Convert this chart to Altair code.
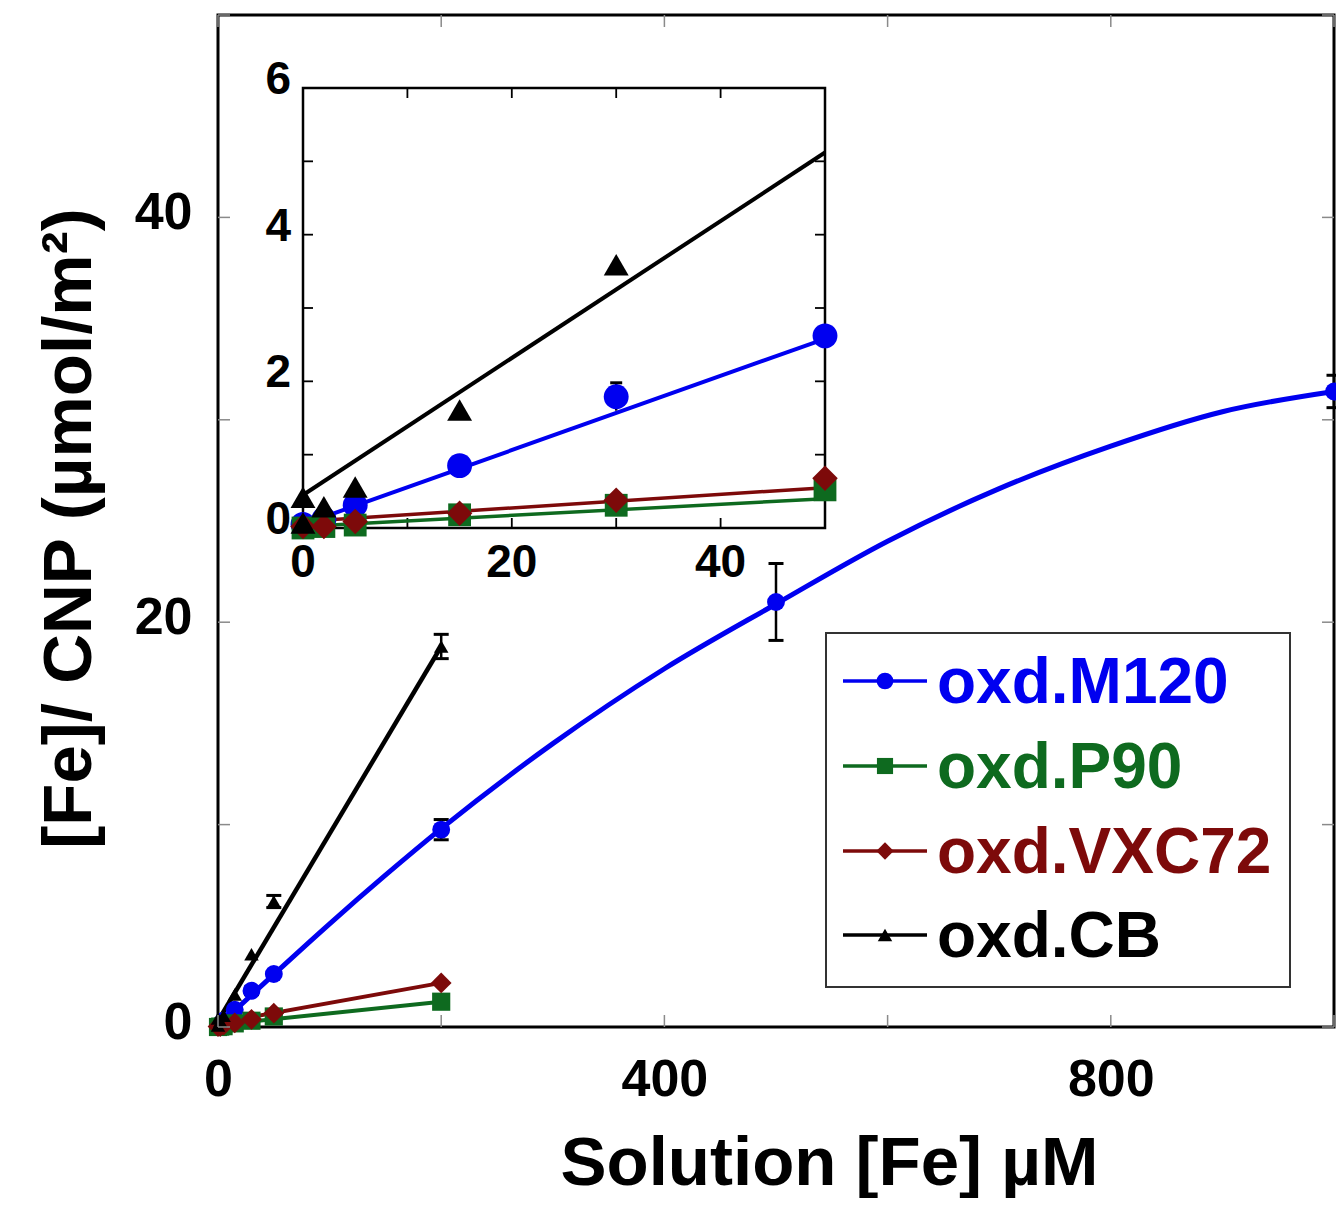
import altair as alt
import pandas as pd

FONT = "Liberation Sans"

# ---------------- data ----------------
series_names = ["oxd.M120", "oxd.P90", "oxd.VXC72", "oxd.CB"]
series_colors = ["#0000f0", "#0e6a1f", "#7d0a0a", "#000000"]
series_shapes = ["circle", "square", "diamond", "triangle-up"]

# measured points (solution Fe in uM, adsorbed Fe in umol/m2)
m120_x = [0, 2, 5, 15, 30, 50, 200, 500, 1000]
m120_y = [0.05, 0.12, 0.31, 0.85, 1.79, 2.62, 9.75, 21.0, 31.4]
p90_x = [0, 2, 5, 15, 30, 50, 200]
p90_y = [0.0, 0.02, 0.04, 0.18, 0.31, 0.52, 1.25]
vxc_x = [0, 2, 5, 15, 30, 50, 200]
vxc_y = [0.02, 0.02, 0.09, 0.20, 0.38, 0.68, 2.18]
cb_x = [0, 0, 2, 5, 15, 30, 50, 200]
cb_y = [0.07, 0.42, 0.29, 0.56, 1.61, 3.59, 6.2, 18.8]

# error bars (main panel)
err_x = [30, 200, 500, 1000, 50, 200]
err_lo = [1.60, 9.25, 19.1, 30.6, 5.9, 18.2]
err_hi = [1.98, 10.25, 22.9, 32.2, 6.5, 19.4]
# error bars (inset)
in_err_x = [30]
in_err_lo = [1.60]
in_err_hi = [1.98]

# fitted curves, main panel
m120_curve_x = [0, 50, 100, 150, 200, 300, 400, 500, 600, 700, 800, 900, 1000]
m120_curve_y = [0.05, 2.6, 5.1, 7.5, 9.8, 14.0, 17.7, 20.9, 24.0, 26.6, 28.7, 30.4, 31.4]
main_fit_x = [0, 200]
p90_fit_main = [0.10, 1.25]
vxc_fit_main = [0.20, 2.18]
cb_fit_main = [0.30, 18.8]

# fitted lines, inset
inset_fit_x = [0, 50]
m120_fit_in = [0.05, 2.58]
p90_fit_in = [0.02, 0.40]
vxc_fit_in = [0.09, 0.55]
cb_fit_in = [0.45, 5.12]

# axis ticks / labels
main_x_ticks = [0, 200, 400, 600, 800, 1000]
main_x_labels = [0, 400, 800]
main_y_ticks = [0, 10, 20, 30, 40, 50]
main_y_labels = [0, 20, 40]
inset_x_ticks = [0, 10, 20, 30, 40, 50]
inset_x_labels = [0, 20, 40]
inset_y_ticks = [0, 1, 2, 3, 4, 5, 6]
inset_y_labels = [0, 2, 4, 6]

# ---------------- layout constants ----------------
PAD_L, PAD_T, PAD_R, PAD_B = 210, 7, 2, 171
W, H = 1116, 1012
IN_L, IN_R, IN_B, IN_T = 85, 607, 513, 73

main_pts = [(m120_x, m120_y), (p90_x, p90_y), (vxc_x, vxc_y), (cb_x, cb_y)]
main_lines = [(m120_curve_x, m120_curve_y), (main_fit_x, p90_fit_main),
              (main_fit_x, vxc_fit_main), (main_fit_x, cb_fit_main)]
inset_lines = [(inset_fit_x, m120_fit_in), (inset_fit_x, p90_fit_in),
               (inset_fit_x, vxc_fit_in), (inset_fit_x, cb_fit_in)]

main_sizes = [320, 330, 430, 210]
inset_sizes = [620, 520, 650, 620]
main_widths = [5, 4, 4, 4.5]
inset_widths = [4, 3.5, 3.5, 4]

# ---------------- scales / axes ----------------
main_x_scale = alt.Scale(domain=[0, 1000], nice=False, zero=False)
main_y_scale = alt.Scale(domain=[0, 50], nice=False, zero=False)
in_x_scale = alt.Scale(domain=[0, 50], range=[IN_L, IN_R], nice=False, zero=False)
in_y_scale = alt.Scale(domain=[0, 6], range=[IN_B, IN_T], nice=False, zero=False)

main_x_axis = alt.Axis(orient="bottom", values=main_x_labels, ticks=False, domain=False, grid=False,
                       labelFontSize=52, labelFontWeight="bold", labelPadding=27,
                       labelFlush=False, labelOverlap=False,
                       titleFontSize=69, titleFontWeight="bold", titleX=611, titleY=157,
                       titleAlign="center", titleBaseline="alphabetic")
main_y_axis = alt.Axis(orient="left", values=main_y_labels, ticks=False, domain=False, grid=False,
                       labelFontSize=52, labelFontWeight="bold", labelPadding=26, labelOffset=-5,
                       labelOverlap=False,
                       titleFontSize=69, titleFontWeight="bold", titleAngle=270,
                       titleX=-128, titleY=513, titleAlign="center", titleBaseline="alphabetic")

X_TITLE = "Solution [Fe] µM"
Y_TITLE = "[Fe]/ CNP (µmol/m²)"


def mx(f):
    return alt.X(f"{f}:Q", scale=main_x_scale, axis=main_x_axis, title=X_TITLE)


def my(f):
    return alt.Y(f"{f}:Q", scale=main_y_scale, axis=main_y_axis, title=Y_TITLE)


def ix(f):
    return alt.X(f"{f}:Q", scale=in_x_scale, axis=None)


def iy(f):
    return alt.Y(f"{f}:Q", scale=in_y_scale, axis=None)


one = pd.DataFrame({"k": [0]})

# ---------------- main panel ----------------
main_layers = []
err_df = pd.DataFrame({"c": err_x, "lo": err_lo, "hi": err_hi})
main_layers.append(alt.Chart(err_df).mark_rule(color="black", strokeWidth=2.5).encode(
    x=mx("c"), y=my("lo"), y2="hi"))
for f in ["lo", "hi"]:
    main_layers.append(alt.Chart(err_df).mark_tick(orient="horizontal", size=15, thickness=3,
                                                   color="black", opacity=1).encode(x=mx("c"), y=my(f)))
for i, (xs, ys) in enumerate(main_lines):
    df = pd.DataFrame({"c": xs, "q": ys})
    main_layers.append(alt.Chart(df).mark_line(color=series_colors[i], strokeWidth=main_widths[i],
                                               interpolate="monotone").encode(x=mx("c"), y=my("q")))
for i, (xs, ys) in enumerate(main_pts):
    df = pd.DataFrame({"c": xs, "q": ys})
    main_layers.append(alt.Chart(df).mark_point(filled=True, opacity=1, shape=series_shapes[i],
                                                size=main_sizes[i], color=series_colors[i]).encode(
        x=mx("c"), y=my("q")))

# main inward ticks
mxt = pd.DataFrame({"v": main_x_ticks})
myt = pd.DataFrame({"v": main_y_ticks})
tick_style = dict(color="#8a8a8a", strokeWidth=1.5)
main_layers.append(alt.Chart(mxt).mark_rule(**tick_style).encode(
    x=mx("v"), y=alt.value(H), y2=alt.value(H - 12)))
main_layers.append(alt.Chart(mxt).mark_rule(**tick_style).encode(
    x=mx("v"), y=alt.value(0), y2=alt.value(12)))
main_layers.append(alt.Chart(myt).mark_rule(**tick_style).encode(
    y=my("v"), x=alt.value(0), x2=alt.value(12)))
main_layers.append(alt.Chart(myt).mark_rule(**tick_style).encode(
    y=my("v"), x=alt.value(W), x2=alt.value(W - 12)))

# legend box
LG_L, LG_R, LG_T, LG_B = 608, 1072, 618, 972
main_layers.append(alt.Chart(one).mark_rect(fill="white", stroke="#333333", strokeWidth=2).encode(
    x=alt.value(LG_L), x2=alt.value(LG_R), y=alt.value(LG_T), y2=alt.value(LG_B)))
legend_rows = [666, 751, 836, 920]
legend_marker_sizes = [280, 260, 300, 210]
for i, name in enumerate(series_names):
    yy = legend_rows[i]
    main_layers.append(alt.Chart(one).mark_rule(color=series_colors[i], strokeWidth=3.5).encode(
        x=alt.value(625), x2=alt.value(709), y=alt.value(yy)))
    main_layers.append(alt.Chart(one).mark_point(filled=True, opacity=1, shape=series_shapes[i],
                                                 size=legend_marker_sizes[i],
                                                 color=series_colors[i]).encode(
        x=alt.value(667), y=alt.value(yy)))
    main_layers.append(alt.Chart(pd.DataFrame({"label": [name]})).mark_text(
        align="left", baseline="middle", font=FONT, fontSize=64, fontWeight="bold",
        color=series_colors[i]).encode(x=alt.value(719), y=alt.value(yy + 3), text="label:N"))

main = alt.layer(*main_layers)

# ---------------- inset panel ----------------
in_layers = []
in_layers.append(alt.Chart(one).mark_rect(fill="white", stroke="black", strokeWidth=2.5).encode(
    x=alt.X(datum=0, scale=in_x_scale, axis=None), x2=alt.datum(50),
    y=alt.Y(datum=0, scale=in_y_scale, axis=None), y2=alt.datum(6)))
ixt = pd.DataFrame({"v": inset_x_ticks})
iyt = pd.DataFrame({"v": inset_y_ticks})
itk = dict(color="black", strokeWidth=1.8)
in_layers.append(alt.Chart(ixt).mark_rule(**itk).encode(x=ix("v"), y=alt.value(IN_B), y2=alt.value(IN_B - 10)))
in_layers.append(alt.Chart(ixt).mark_rule(**itk).encode(x=ix("v"), y=alt.value(IN_T), y2=alt.value(IN_T + 10)))
in_layers.append(alt.Chart(iyt).mark_rule(**itk).encode(y=iy("v"), x=alt.value(IN_L), x2=alt.value(IN_L + 10)))
in_layers.append(alt.Chart(iyt).mark_rule(**itk).encode(y=iy("v"), x=alt.value(IN_R), x2=alt.value(IN_R - 10)))

# inset tick labels
ixl = pd.DataFrame({"v": inset_x_labels})
iyl = pd.DataFrame({"v": inset_y_labels})
in_layers.append(alt.Chart(ixl).mark_text(font=FONT, fontSize=46, fontWeight="bold", color="black",
                                          align="center", baseline="middle").encode(
    x=ix("v"), y=alt.value(IN_B + 35), text=alt.Text("v:Q", format="d")))
in_layers.append(alt.Chart(iyl).mark_text(font=FONT, fontSize=46, fontWeight="bold", color="black",
                                          align="right", baseline="middle", dy=-8).encode(
    y=iy("v"), x=alt.value(IN_L - 12), text=alt.Text("v:Q", format="d")))

in_err_df = pd.DataFrame({"c": in_err_x, "lo": in_err_lo, "hi": in_err_hi})
in_layers.append(alt.Chart(in_err_df).mark_rule(color="black", strokeWidth=2.5).encode(
    x=ix("c"), y=iy("lo"), y2="hi"))
in_layers.append(alt.Chart(in_err_df).mark_tick(orient="horizontal", size=12, thickness=3,
                                                color="black", opacity=1).encode(x=ix("c"), y=iy("hi")))
for i, (xs, ys) in enumerate(inset_lines):
    df = pd.DataFrame({"c": xs, "q": ys})
    in_layers.append(alt.Chart(df).mark_line(color=series_colors[i], strokeWidth=inset_widths[i]).encode(
        x=ix("c"), y=iy("q")))
for i, (xs, ys) in enumerate(main_pts):
    df = pd.DataFrame({"c": xs, "q": ys})
    in_layers.append(alt.Chart(df).transform_filter("datum.c <= 50 && datum.q <= 6").mark_point(
        filled=True, opacity=1, shape=series_shapes[i], size=inset_sizes[i],
        color=series_colors[i]).encode(x=ix("c"), y=iy("q")))

inset = alt.layer(*in_layers)

chart = alt.layer(main, inset).resolve_scale(x="independent", y="independent").properties(
    width=W, height=H,
    padding={"left": PAD_L, "top": PAD_T, "right": PAD_R, "bottom": PAD_B},
    autosize=alt.AutoSizeParams(type="none"),
    background="white",
).configure_view(stroke="black", strokeWidth=3).configure_axis(
    labelFont=FONT, titleFont=FONT, labelColor="black", titleColor="black")

chart.save("out.html", embed_options={"renderer": "svg", "actions": False})
